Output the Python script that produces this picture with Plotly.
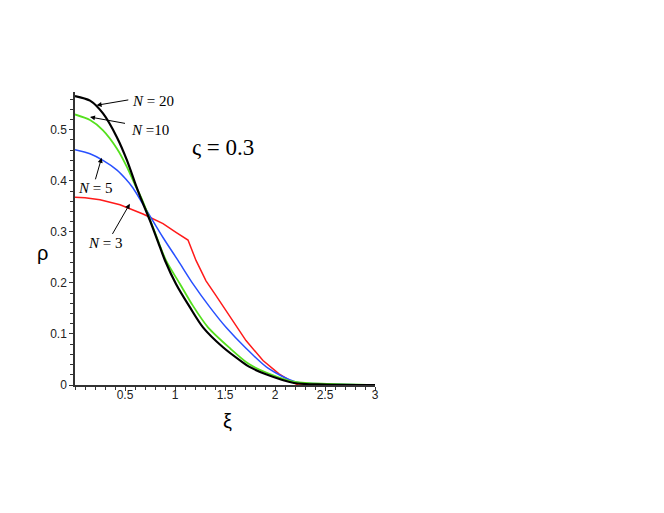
import plotly.graph_objects as go

# N = 20 (black)
x20 = [0, 0.15, 0.28, 0.42, 0.52, 0.60, 0.65, 0.75, 0.85, 0.90, 1.01, 1.15, 1.28, 1.48, 1.68, 1.74, 1.91, 2.19, 2.5, 3.0]
y20 = [0.566, 0.557, 0.532, 0.485, 0.440, 0.396, 0.370, 0.322, 0.270, 0.244, 0.198, 0.152, 0.113, 0.074, 0.044, 0.036, 0.021, 0.004, 0.001, 0.0]
# N = 10 (green)
x10 = [0, 0.15, 0.28, 0.42, 0.52, 0.60, 0.66, 0.78, 0.91, 1.05, 1.18, 1.33, 1.55, 1.74, 1.93, 2.2, 2.55, 3.0]
y10 = [0.530, 0.519, 0.499, 0.463, 0.427, 0.392, 0.368, 0.309, 0.244, 0.198, 0.155, 0.113, 0.072, 0.041, 0.023, 0.006, 0.002, 0.0]
# N = 5 (blue)
x5 = [0, 0.15, 0.28, 0.42, 0.51, 0.58, 0.68, 0.88, 1.03, 1.18, 1.35, 1.51, 1.71, 1.93, 2.21, 2.54, 3.0]
y5 = [0.461, 0.453, 0.440, 0.421, 0.403, 0.386, 0.354, 0.289, 0.244, 0.198, 0.152, 0.113, 0.072, 0.033, 0.006, 0.002, 0.0]
# N = 3 (red)
x3 = [0, 0.10, 0.25, 0.45, 0.68, 0.88, 1.01, 1.13, 1.21, 1.31, 1.40, 1.55, 1.71, 1.88, 2.04, 2.18, 2.23, 3.0]
y3 = [0.368, 0.367, 0.363, 0.353, 0.335, 0.316, 0.299, 0.284, 0.244, 0.204, 0.178, 0.133, 0.087, 0.048, 0.022, 0.005, 0.0, 0.0]

x_tickvals = [0.5, 1, 1.5, 2, 2.5, 3]
x_ticktext = ["0.5", "1", "1.5", "2", "2.5", "3"]
y_tickvals = [0, 0.1, 0.2, 0.3, 0.4, 0.5]
y_ticktext = ["0", "0.1", "0.2", "0.3", "0.4", "0.5"]

fig = go.Figure()
fig.add_trace(go.Scatter(x=x3, y=y3, mode="lines", line=dict(color="#ff1a1a", width=1.5), cliponaxis=False))
fig.add_trace(go.Scatter(x=x5, y=y5, mode="lines", line=dict(color="#2850ff", width=1.5, shape="spline", smoothing=0.8), cliponaxis=False))
fig.add_trace(go.Scatter(x=x10, y=y10, mode="lines", line=dict(color="#55e01e", width=1.8, shape="spline", smoothing=0.8), cliponaxis=False))
fig.add_trace(go.Scatter(x=x20, y=y20, mode="lines", line=dict(color="#000000", width=2.2, shape="spline", smoothing=0.8), cliponaxis=False))

lab_font = dict(family="Liberation Serif", size=15, color="black")
labels = [
    ("<i>N</i> = 20", 0.78, 0.557, 0.216, 0.548, 0.548, 0.559),
    ("<i>N</i> =10", 0.75, 0.500, 0.150, 0.525, 0.515, 0.512),
    ("<i>N</i> = 5", 0.20, 0.386, 0.266, 0.445, 0.200, 0.400),
    ("<i>N</i> = 3", 0.30, 0.279, 0.548, 0.355, 0.366, 0.293),
]
for txt, tx, ty, hx, hy, ax, ay in labels:
    fig.add_annotation(x=tx, y=ty, text=txt, showarrow=False, font=lab_font,
                       xanchor="center", yanchor="middle")
    fig.add_annotation(x=hx, y=hy, ax=ax, ay=ay, axref="x", ayref="y", text="",
                       showarrow=True, arrowhead=2, arrowsize=1, arrowwidth=1, arrowcolor="black")

fig.add_annotation(x=1.48, y=0.465, text="ς = 0.3", showarrow=False,
                   xanchor="center", yanchor="middle",
                   font=dict(family="Liberation Serif", size=23, color="black"))
fig.add_annotation(xref="paper", yref="paper", x=-0.107, y=0.449, text="ρ", showarrow=False,
                   xanchor="center", yanchor="middle",
                   font=dict(family="Liberation Sans", size=20, color="black"))
fig.add_annotation(xref="paper", yref="paper", x=0.507, y=-0.122, text="ξ", showarrow=False,
                   xanchor="center", yanchor="middle",
                   font=dict(family="Liberation Sans", size=20, color="black"))

tick_font = dict(family="Liberation Sans", size=12, color="#222222")
fig.update_layout(
    width=664, height=513,
    margin=dict(l=67, r=297, t=84, b=136, pad=0),
    paper_bgcolor="white", plot_bgcolor="white",
    showlegend=False,
    xaxis=dict(range=[0, 3], tickvals=x_tickvals, ticktext=x_ticktext, ticks="outside", ticklen=4,
               tickcolor="#333333", showline=True, linecolor="#333333", linewidth=1.5,
               showgrid=False, zeroline=False, tickfont=tick_font, layer="below traces",
               ticklabelstandoff=-6,
               minor=dict(dtick=0.1, tick0=0, ticks="outside", ticklen=3, tickcolor="#333333", showgrid=False)),
    yaxis=dict(range=[0, 0.574], tickvals=y_tickvals, ticktext=y_ticktext, ticks="outside", ticklen=4,
               tickcolor="#333333", showline=True, linecolor="#333333", linewidth=1.5,
               showgrid=False, zeroline=False, tickfont=tick_font, layer="below traces",
               minor=dict(dtick=0.02, tick0=0, ticks="outside", ticklen=3, tickcolor="#333333", showgrid=False)),
)

fig.write_html("out.html")
